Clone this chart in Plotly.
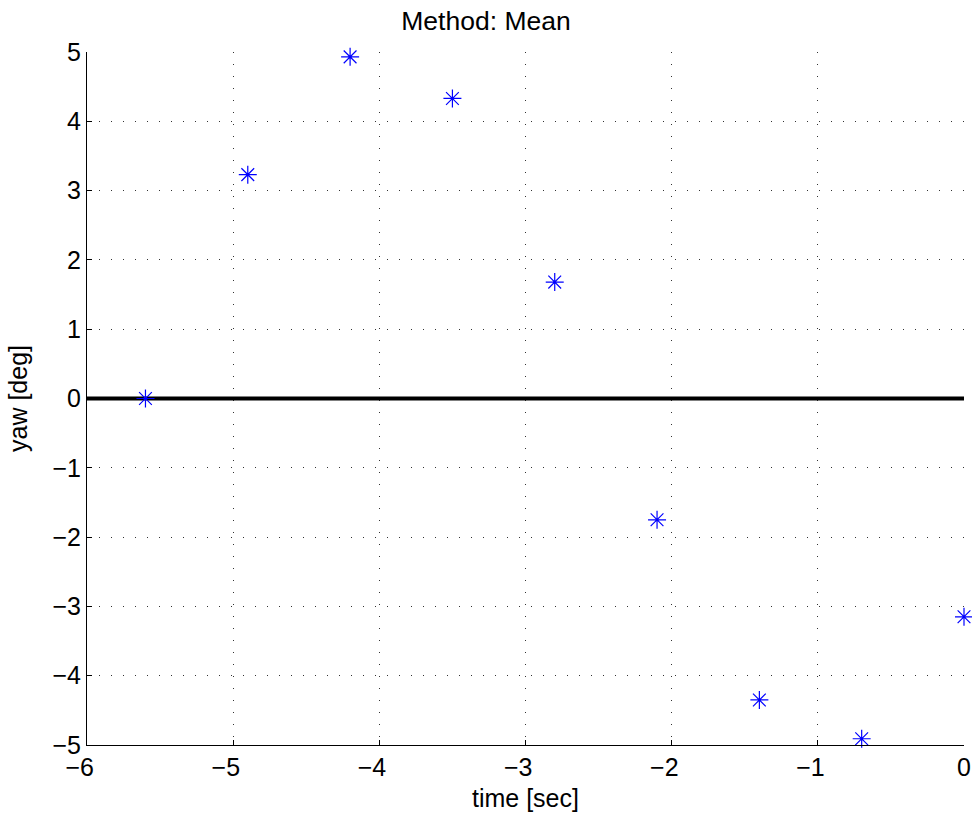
import plotly.graph_objects as go

time_sec = [-5.6, -4.9, -4.2, -3.5, -2.8, -2.1, -1.4, -0.7, 0.0]
yaw_deg = [0.0, 3.23, 4.93, 4.33, 1.68, -1.75, -4.35, -4.91, -3.15]
zero_x = [-6, 0]
zero_y = [0, 0]
x_ticks = [-6, -5, -4, -3, -2, -1, 0]
x_ticklabels = ["−6", "−5", "−4", "−3", "−2", "−1", "0"]
y_ticks = [-5, -4, -3, -2, -1, 0, 1, 2, 3, 4, 5]

# pad negative labels with an invisible trailing minus so the digit sits on the tick
ghost = "<span style='color:rgba(0,0,0,0)'>−</span>"
x_ticktext = [t + ghost if t.startswith("−") else t for t in x_ticklabels]

fig = go.Figure()
fig.add_trace(go.Scatter(x=zero_x, y=zero_y, mode="lines",
                         line=dict(color="black", width=4), showlegend=False,
                         cliponaxis=False, hoverinfo="skip"))
fig.add_trace(go.Scatter(x=time_sec, y=yaw_deg, mode="markers",
                         marker=dict(symbol="asterisk-open", size=15, color="blue",
                                     line=dict(color="blue", width=1.2)),
                         showlegend=False, cliponaxis=False))

font_main = "Liberation Sans, Arial, Helvetica, sans-serif"
axis_common = dict(showgrid=True, gridcolor="#333333", gridwidth=1, griddash="1px,11px",
                   zeroline=False, showline=True, linecolor="black", linewidth=1,
                   ticks="inside", ticklen=5, tickcolor="black", automargin=False,
                   ticklabeloverflow="allow",
                   tickfont=dict(size=25, color="black", family=font_main))

fig.update_layout(
    width=972, height=816,
    paper_bgcolor="white", plot_bgcolor="white",
    margin=dict(l=87, r=8, t=52, b=71),
    title=dict(text="Method: Mean", x=0.5, xanchor="center", y=0.974, yanchor="middle",
               font=dict(size=26.5, color="black", family=font_main)),
    xaxis=dict(range=[-6, 0.000001], tickvals=x_ticks, ticktext=x_ticktext,
               title=dict(text="time [sec]", font=dict(size=25, color="black", family=font_main), standoff=9),
               **axis_common),
    yaxis=dict(range=[-5, 5], tickvals=y_ticks,
               title=dict(text="yaw [deg]", font=dict(size=25, color="black", family=font_main), standoff=17),
               **axis_common),
)
fig.write_html("out.html", config={"displayModeBar": False},
               post_script="document.body.style.margin='0px';document.body.style.padding='0px';")
